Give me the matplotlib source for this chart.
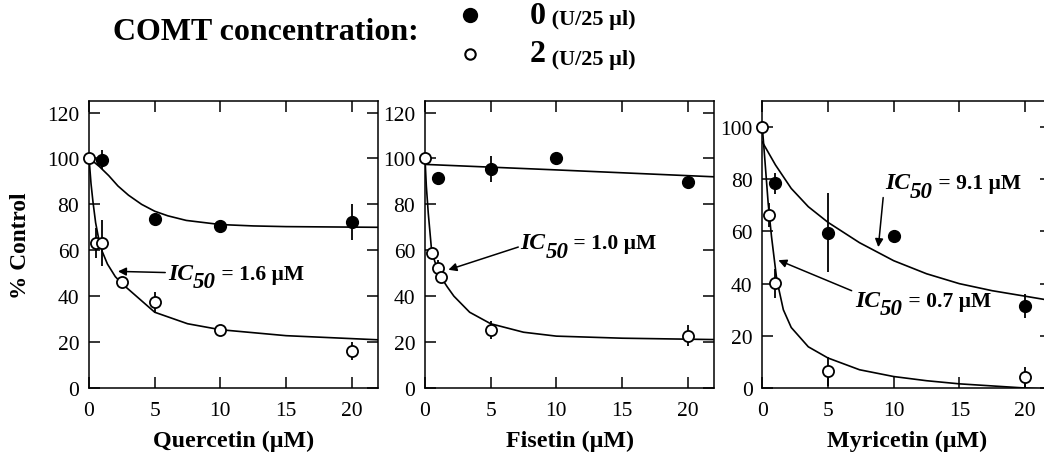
import matplotlib
matplotlib.use("Agg")
import numpy as np
from matplotlib import pyplot as plt
from matplotlib.lines import Line2D

plt.rcParams['font.family'] = ['Liberation Serif', 'DejaVu Serif']

# ---- Quercetin ----
q_x_ctrl = [1, 5, 10, 20]
q_y_ctrl = [99.5, 73.5, 70.6, 72.3]
q_e_ctrl = [4, 0, 0, 8]
q_x_comt = [0, 0.5, 1, 2.5, 5, 10, 20]
q_y_comt = [100, 63, 63, 46, 37.3, 25.4, 16]
q_e_comt = [0, 6.5, 10, 0, 4.5, 0, 4]
q_fit_x_ctrl = [0, 0.4, 0.8, 1.5, 2.2, 3, 4, 5, 6, 7.4, 10, 12.5, 15, 22]
q_fit_y_ctrl = [100, 98.3, 96.4, 92.5, 88, 84, 80, 77, 75, 73, 71.2, 70.6, 70.3, 70]
q_fit_x_comt = [0, 0.15, 0.3, 0.5, 0.7, 1.0, 1.4, 2.0, 2.5, 3.4, 5, 7.5, 10, 15, 22]
q_fit_y_comt = [100, 89, 81, 72, 66, 59.5, 54, 48.5, 45.5, 41, 33, 28, 25.4, 22.8, 21]

# ---- Fisetin ----
f_x_ctrl = [1, 5, 10, 20]
f_y_ctrl = [91.6, 95.4, 100.2, 89.6]
f_e_ctrl = [0, 5.8, 0, 0]
f_x_comt = [0, 0.5, 1.0, 1.25, 5, 20]
f_y_comt = [100, 58.7, 52.3, 48.3, 25.4, 22.8]
f_e_comt = [0, 0, 3.5, 0, 4, 4.5]
f_fit_x_ctrl = [0, 10, 22]
f_fit_y_ctrl = [97.4, 95.0, 92.0]
f_fit_x_comt = [0, 0.1, 0.25, 0.5, 0.75, 1.0, 1.3, 1.7, 2.2, 3.4, 5, 7.5, 10, 15, 22]
f_fit_y_comt = [100, 88, 76, 60, 55, 51.5, 47.5, 44, 40, 33, 28, 24.3, 22.6, 21.7, 21.1]

# ---- Myricetin ----
m_x_ctrl = [1, 5, 10, 20]
m_y_ctrl = [78.4, 59.6, 58.3, 31.5]
m_e_ctrl = [4.2, 15.3, 0, 4.5]
m_x_comt = [0, 0.5, 1, 5, 20]
m_y_comt = [100, 66.3, 40.1, 6.4, 4.2]
m_e_comt = [0, 4.5, 5.5, 5.5, 4]
m_fit_x_ctrl = [0, 1, 2.2, 3.5, 5, 7.4, 10, 12.5, 15, 17.5, 20, 22]
m_fit_y_ctrl = [94.3, 85.5, 76.5, 69.5, 63.5, 55.7, 48.8, 43.8, 40, 37.3, 35.2, 33.5]
m_fit_x_comt = [0, 0.2, 0.45, 0.7, 1.1, 1.6, 2.2, 3.5, 5, 7.4, 10, 12.5, 15, 17.5, 20, 22]
m_fit_y_comt = [100, 87, 70.5, 58, 41.5, 30, 23.2, 15.8, 11.5, 7, 4.4, 2.8, 1.6, 0.8, 0, -0.5]

x_ticks = [0, 5, 10, 15, 20]
x_labels = ["Quercetin (\u00b5M)", "Fisetin (\u00b5M)", "Myricetin (\u00b5M)"]
comt_levels = ["0", "2"]


def ic50_label(ax, x, y, value, tail, head):
    t1 = ax.text(x, y, "IC", fontsize=17, fontstyle='italic', fontweight='bold',
                 va='center', ha='left')
    t2 = ax.annotate("50", xy=(1, 0), xycoords=t1, xytext=(0, -6), textcoords='offset points',
                     fontsize=16.5, fontstyle='italic', fontweight='bold', va='bottom', ha='left')
    ax.annotate(" = %s \u00b5M" % value, xy=(1, 0), xycoords=t2, xytext=(0, 6),
                textcoords='offset points', fontsize=15.5, fontweight='bold',
                va='bottom', ha='left')
    ax.annotate("", xy=head, xytext=tail,
                arrowprops=dict(arrowstyle='-|>', lw=1.1, color='k',
                                mutation_scale=12, shrinkA=0, shrinkB=0))


def panel(ax, xc, yc, ec, xo, yo, eo, fxc, fyc, fxo, fyo, ymax, yticks, xlabel):
    ax.plot(fxc, fyc, color='k', lw=1.2, zorder=2)
    ax.plot(fxo, fyo, color='k', lw=1.2, zorder=2)
    ax.errorbar(xc, yc, yerr=ec, fmt='none', ecolor='k', elinewidth=1.3, capsize=0, zorder=3)
    ax.errorbar(xo, yo, yerr=eo, fmt='none', ecolor='k', elinewidth=1.3, capsize=0, zorder=3)
    ax.plot(xc, yc, 'o', ms=8.5, mfc='k', mec='k', clip_on=False, zorder=4)
    ax.plot(xo, yo, 'o', ms=8, mfc='white', mec='k', mew=1.3, clip_on=False, zorder=4)
    ax.set_xlim(0, 22)
    ax.set_ylim(0, ymax)
    ax.set_xticks(x_ticks)
    ax.set_yticks(yticks)
    ax.tick_params(direction='in', length=8, width=1.1, labelsize=15.5, pad=7,
                   top=True, right=True)
    ax.tick_params(axis='x', pad=9)
    for s in ax.spines.values():
        s.set_linewidth(1.1)
    ax.set_xlabel(xlabel, fontsize=17.3, fontweight='bold')
    ax.xaxis.set_label_coords(0.5, -0.145)


fig = plt.figure(figsize=(10.44, 4.64), dpi=100)
bottom, height, width = 0.1616, 0.6185, 0.2768
ax1 = fig.add_axes([0.0853, bottom, width, height])
ax2 = fig.add_axes([0.4071, bottom, width, height])
ax3 = fig.add_axes([0.7302, bottom, width, height])

panel(ax1, q_x_ctrl, q_y_ctrl, q_e_ctrl, q_x_comt, q_y_comt, q_e_comt,
      q_fit_x_ctrl, q_fit_y_ctrl, q_fit_x_comt, q_fit_y_comt,
      125, [0, 20, 40, 60, 80, 100, 120], x_labels[0])
panel(ax2, f_x_ctrl, f_y_ctrl, f_e_ctrl, f_x_comt, f_y_comt, f_e_comt,
      f_fit_x_ctrl, f_fit_y_ctrl, f_fit_x_comt, f_fit_y_comt,
      125, [0, 20, 40, 60, 80, 100, 120], x_labels[1])
panel(ax3, m_x_ctrl, m_y_ctrl, m_e_ctrl, m_x_comt, m_y_comt, m_e_comt,
      m_fit_x_ctrl, m_fit_y_ctrl, m_fit_x_comt, m_fit_y_comt,
      110, [0, 20, 40, 60, 80, 100], x_labels[2])

ax1.set_ylabel("% Control", fontsize=16.8, fontweight='bold')
ax1.yaxis.set_label_coords(-0.2, 0.5)

ic50_label(ax1, 6.0, 50, "1.6", (5.8, 50.3), (2.2, 50.8))
ic50_label(ax2, 7.25, 63.3, "1.0", (7.1, 61.4), (1.78, 51.5))
ic50_label(ax3, 9.35, 78.6, "9.1", (9.2, 73), (8.83, 54))
ic50_label(ax3, 7.05, 33.5, "0.7", (6.8, 37.3), (1.22, 49))

# header legend
fig.text(113 / 1044, 1 - 33 / 464, "COMT concentration:", fontsize=23, fontweight='bold',
         ha='left', va='center')
row_y = [16, 55]
row_face = ['k', 'white']
row_ms = [9.5, 7.5]
for lab, face, ms, ypx in zip(comt_levels, row_face, row_ms, row_y):
    fy = 1 - ypx / 464
    fig.add_artist(Line2D([470 / 1044], [fy], marker='o', ms=ms, mfc=face, mec='k',
                          mew=1.5, transform=fig.transFigure))
    t = fig.text(530 / 1044, fy, lab, fontsize=23, fontweight='bold', ha='left', va='center')
    plt.annotate(" (U/25 \u00b5l)", xy=(1, 0), xycoords=t, fontsize=16,
                 fontweight='bold', ha='left', va='bottom')

fig.savefig("out.png", dpi=100)
